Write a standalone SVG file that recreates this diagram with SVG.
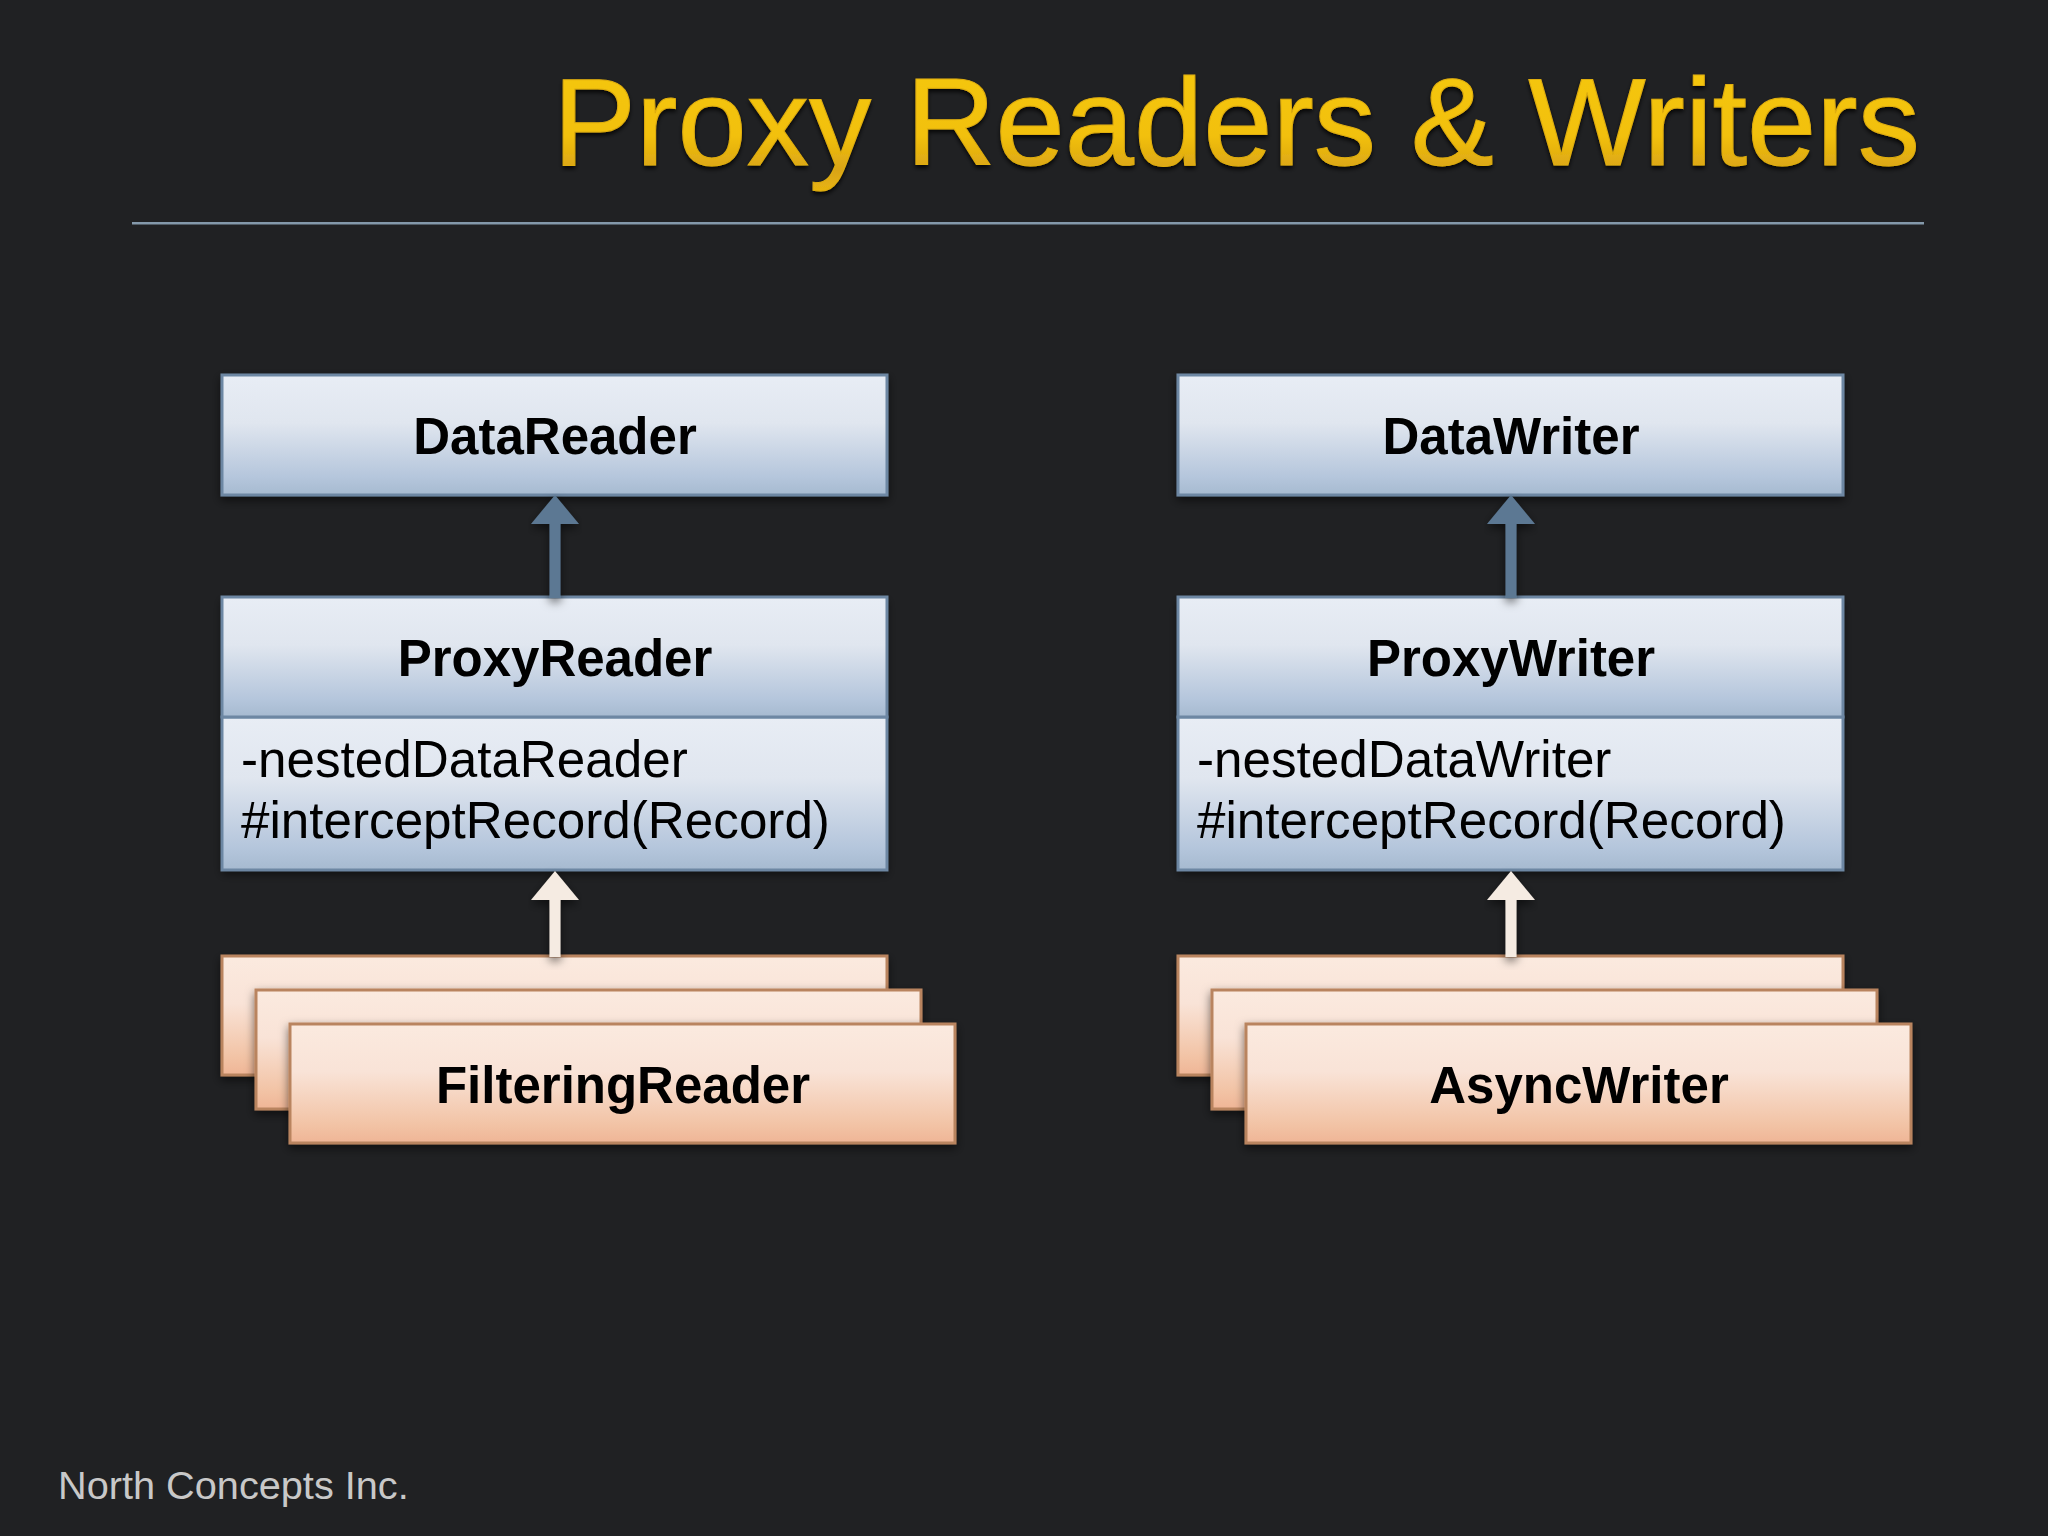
<svg xmlns="http://www.w3.org/2000/svg" width="2048" height="1536" viewBox="0 0 2048 1536">
<defs>
<linearGradient id="blue" x1="0" y1="0" x2="0" y2="1"><stop offset="0" stop-color="#e8edf5"/><stop offset="0.4" stop-color="#e0e6ef"/><stop offset="0.85" stop-color="#b5c6dc"/><stop offset="1" stop-color="#a6bad0"/></linearGradient>
<linearGradient id="peach" x1="0" y1="0" x2="0" y2="1"><stop offset="0" stop-color="#fbeadf"/><stop offset="0.4" stop-color="#f9e3d7"/><stop offset="0.85" stop-color="#f2c3a5"/><stop offset="1" stop-color="#efb596"/></linearGradient>
<linearGradient id="gold" x1="0" y1="0" x2="0" y2="1"><stop offset="0" stop-color="#f5c80c"/><stop offset="0.6" stop-color="#f2c00a"/><stop offset="0.85" stop-color="#d9a418"/><stop offset="1" stop-color="#e8b410"/></linearGradient>
<filter id="sh" x="-5%" y="-10%" width="110%" height="125%"><feDropShadow dx="0" dy="4" stdDeviation="5" flood-color="#000" flood-opacity="0.55"/></filter>
<filter id="tsh" x="-5%" y="-10%" width="110%" height="125%"><feDropShadow dx="0" dy="3" stdDeviation="2" flood-color="#000" flood-opacity="0.8"/></filter>
</defs>
<style>
text{font-family:"Liberation Sans",Arial,sans-serif;fill:#000}
.s{filter:url(#sh)}
.b{fill:url(#blue);stroke:#6d87a3;stroke-width:3}
.p{fill:url(#peach);stroke:#b9845f;stroke-width:3;filter:url(#sh)}
.n{font-size:51px;font-weight:bold;text-anchor:middle}
.m{font-size:51.2px}
.au{fill:#5b7893;filter:url(#sh)}
.ac{fill:#f5ebe2;filter:url(#sh)}
</style>
<rect width="2048" height="1536" fill="#202123"/>
<text x="553" y="165" font-size="124" stroke="#e0ae10" stroke-width="1" style="fill:url(#gold);filter:url(#tsh)" textLength="1367" lengthAdjust="spacingAndGlyphs">Proxy Readers &amp; Writers</text>
<rect x="132" y="222" width="1792" height="2.5" fill="#8499ab"/>
<g id="DataReader"><rect class="b s" x="222" y="375" width="665" height="120"/><text class="n" x="555" y="454">DataReader</text></g>
<g id="DataWriter"><rect class="b s" x="1178" y="375" width="665" height="120"/><text class="n" x="1511" y="454">DataWriter</text></g>
<g id="ProxyReader"><rect class="s" x="222" y="597" width="665" height="273" fill="#6d87a3"/><rect class="b" x="222" y="717" width="665" height="153"/><rect class="b" x="222" y="597" width="665" height="120"/><text class="n" x="555" y="676">ProxyReader</text><text class="m" x="241" y="777">-nestedDataReader</text><text class="m" x="241" y="838">#interceptRecord(Record)</text></g>
<g id="ProxyWriter"><rect class="s" x="1178" y="597" width="665" height="273" fill="#6d87a3"/><rect class="b" x="1178" y="717" width="665" height="153"/><rect class="b" x="1178" y="597" width="665" height="120"/><text class="n" x="1511" y="676">ProxyWriter</text><text class="m" x="1197" y="777">-nestedDataWriter</text><text class="m" x="1197" y="838">#interceptRecord(Record)</text></g>
<g id="FilteringReader"><rect class="p" x="222" y="956" width="665" height="119"/><rect class="p" x="256" y="990" width="665" height="119"/><rect class="p" x="290" y="1024" width="665" height="119"/><text class="n" x="623" y="1103">FilteringReader</text></g>
<g id="AsyncWriter"><rect class="p" x="1178" y="956" width="665" height="119"/><rect class="p" x="1212" y="990" width="665" height="119"/><rect class="p" x="1246" y="1024" width="665" height="119"/><text class="n" x="1579" y="1103">AsyncWriter</text></g>
<g id="connectors">
<path class="au" d="M555 495L579 524H560.5V598H549.5V524H531Z"/>
<path class="au" d="M1511 495L1535 524H1516.5V598H1505.500V524H1487Z"/>
<path class="ac" d="M555 871L579 900H560.500V957H549.500V900H531Z"/>
<path class="ac" d="M1511 871L1535 900H1516.500V957H1505.500V900H1487Z"/>
</g>
<text x="58" y="1499" font-size="39.700" style="fill:#c8c8c8">North Concepts Inc.</text>
</svg>
